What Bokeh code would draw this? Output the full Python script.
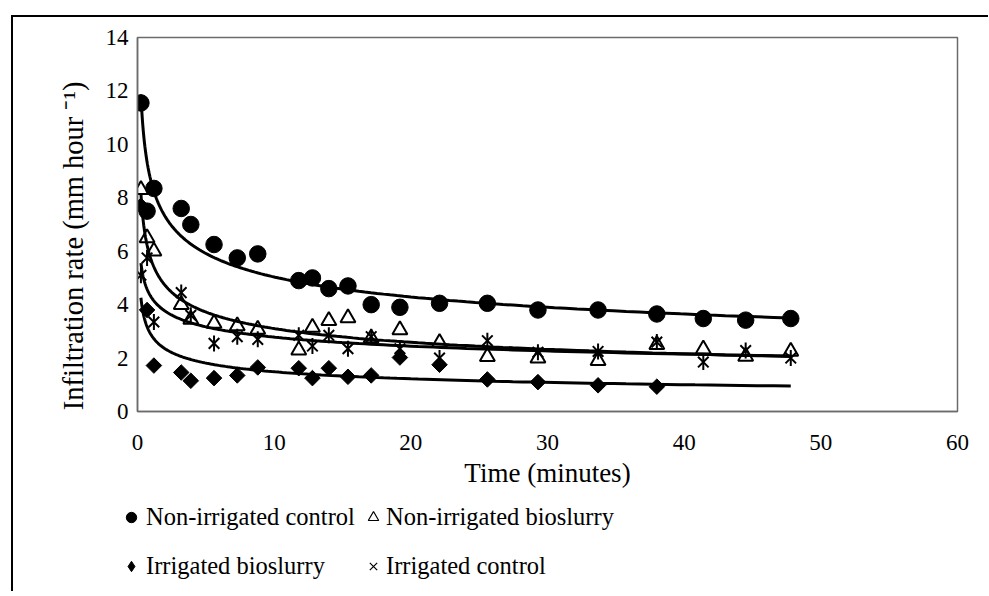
import numpy as np
from bokeh.plotting import figure
from bokeh.layouts import column
from bokeh.models import Range1d, FixedTicker, Legend, LegendItem
from bokeh.embed import file_html
from bokeh.resources import INLINE

# ---- data ----
time_min = [0.25, 0.7, 1.2, 3.2, 3.9, 5.6, 7.3, 8.8, 11.8, 12.8, 14.0, 15.4,
            17.1, 19.2, 22.1, 25.6, 29.3, 33.7, 38.0, 41.4, 44.5, 47.8]
non_irrigated_control = [11.55, 7.5, 8.35, 7.6, 7.0, 6.25, 5.75, 5.9, 4.9, 5.0, 4.6, 4.7,
                         4.0, 3.9, 4.05, 4.05, 3.8, 3.8, 3.65, 3.48, 3.42, 3.48]
non_irrigated_bioslurry = [8.3, 6.5, 6.0, 4.0, 3.45, 3.3, 3.2, 3.07, 2.3, 3.15, 3.4, 3.5,
                           2.75, 3.05, 2.58, 2.05, 2.0, 1.9, 2.5, 2.33, 2.06, 2.25]
irrigated_control = [5.1, 5.75, 3.35, 4.45, 3.6, 2.55, 2.8, 2.7, 2.85, 2.45, 2.85, 2.35,
                     2.8, 2.35, 2.0, 2.65, 2.22, 2.25, 2.6, 1.85, 2.28, 2.0]
irrigated_bioslurry = [7.7, 3.8, 1.72, 1.46, 1.15, 1.25, 1.35, 1.65, 1.62, 1.25, 1.62, 1.3,
                       1.35, 2.02, 1.75, 1.2, 1.1, 0.98, 0.93]

legend_labels = ["Non-irrigated control", "Non-irrigated bioslurry",
                 "Irrigated bioslurry", "Irrigated control"]
x_ticks = [0, 10, 20, 30, 40, 50, 60]
y_ticks = [0, 2, 4, 6, 8, 10, 12, 14]

FONT = "Liberation Serif"
NBSP = "\u00a0"

p = figure(frame_width=820, frame_height=374, output_backend="svg", toolbar_location=None,
           x_range=Range1d(0, 60), y_range=Range1d(0, 14),
           min_border_left=124, min_border_right=31, min_border_top=20,
           min_border_bottom=84)
p.grid.visible = False
p.outline_line_color = "#6b6b6b"
p.outline_line_width = 1.5
p.background_fill_color = "white"
p.border_fill_color = "white"

for ax in (p.xaxis[0], p.yaxis[0]):
    ax.axis_line_color = "#6b6b6b"
    ax.axis_line_width = 1.5
    ax.major_tick_line_color = None
    ax.minor_tick_line_color = None
    ax.major_label_text_font = FONT
    ax.major_label_text_font_size = "23px"
    ax.major_label_text_color = "black"
    ax.axis_label_text_font = FONT
    ax.axis_label_text_font_style = "normal"
    ax.axis_label_text_color = "black"

p.xaxis.axis_label_text_font_size = "27px"
p.yaxis.axis_label_text_font_size = "28.5px"
p.xaxis.ticker = FixedTicker(ticks=x_ticks)
p.yaxis.ticker = FixedTicker(ticks=y_ticks)
p.xaxis.axis_label = "Time (minutes)"
p.yaxis.axis_label = "Infiltration  rate (mm hour \u207b\u00b9)" + NBSP * 5
p.xaxis.major_label_standoff = 17
p.xaxis.axis_label_standoff = 5
p.yaxis.major_label_standoff = 3
p.yaxis.axis_label_standoff = 14


def power_trend(t, y, t_end):
    lt, ly = np.log(np.asarray(t, float)), np.log(np.asarray(y, float))
    b, la = np.polyfit(lt, ly, 1)
    tt = np.geomspace(t[0], t_end, 200)
    return tt, np.exp(la) * tt ** b

t_end = max(time_min)
series = [non_irrigated_control, non_irrigated_bioslurry, irrigated_bioslurry, irrigated_control]
for vals in series:
    tt, yy = power_trend(time_min[:len(vals)], vals, t_end)
    p.line(tt, yy, line_color="black", line_width=3)

p.scatter(time_min, non_irrigated_control, marker="circle", size=16.5,
          fill_color="black", line_color="black")
p.scatter(time_min, non_irrigated_bioslurry, marker="triangle", size=15,
          fill_color=None, line_color="black", line_width=2)
p.scatter(time_min[:len(irrigated_bioslurry)], irrigated_bioslurry, marker="square",
          angle=np.pi / 4, size=11, fill_color="black", line_color="black")
p.scatter(time_min, irrigated_control, marker="x", size=15, line_color="black", line_width=2)
p.scatter(time_min, irrigated_control, marker="dash", angle=np.pi / 2, size=16,
          line_color="black", line_width=2)

# ---- legend strip below the chart (its view range keeps the series out of sight) ----
q = figure(width=975, height=96, output_backend="svg", toolbar_location=None,
           x_range=Range1d(-2, -1), y_range=Range1d(-2, -1), x_axis_type=None, y_axis_type=None,
           min_border_left=0, min_border_right=0, min_border_top=0, min_border_bottom=0)
q.grid.visible = False
q.outline_line_color = None
q.border_fill_color = "white"
q.background_fill_color = "white"

x_shift = 0
if "frame_align" in q.properties():
    q.frame_align = False
    p.frame_align = False
else:
    x_shift = -124

g_circ = q.scatter(time_min, non_irrigated_control, marker="circle",
                   fill_color="black", line_color="black")
g_tri = q.scatter(time_min, non_irrigated_bioslurry, marker="triangle",
                  fill_color=None, line_color="black", line_width=1.2)
g_dia = q.scatter(time_min[:len(irrigated_bioslurry)], irrigated_bioslurry, marker="diamond",
                  fill_color="black", line_color="black")
g_x = q.scatter(time_min, irrigated_control, marker="x", line_color="black", line_width=1.2)

common = dict(padding=0, margin=0, spacing=19, glyph_width=26, glyph_height=30,
              label_height=30, label_text_font=FONT, label_text_color="black",
              label_text_font_size="24.5px", border_line_color=None,
              background_fill_alpha=0)
leg1 = Legend(items=[LegendItem(label=legend_labels[0], renderers=[g_circ]),
                     LegendItem(label=legend_labels[2], renderers=[g_dia])],
              location=(105 + x_shift, 10), label_standoff=2, **common)
leg2 = Legend(items=[LegendItem(label=legend_labels[1], renderers=[g_tri]),
                     LegendItem(label=legend_labels[3], renderers=[g_x])],
              location=(347 + x_shift, 10), label_standoff=0, **common)
q.add_layout(leg1, "center")
q.add_layout(leg2, "center")

page = column(p, q, spacing=0,
              styles={"border-top": "2px solid black", "border-left": "2px solid black",
                      "margin-left": "11px", "margin-top": "15px"})

open("out.html", "w").write(file_html(page, INLINE))
